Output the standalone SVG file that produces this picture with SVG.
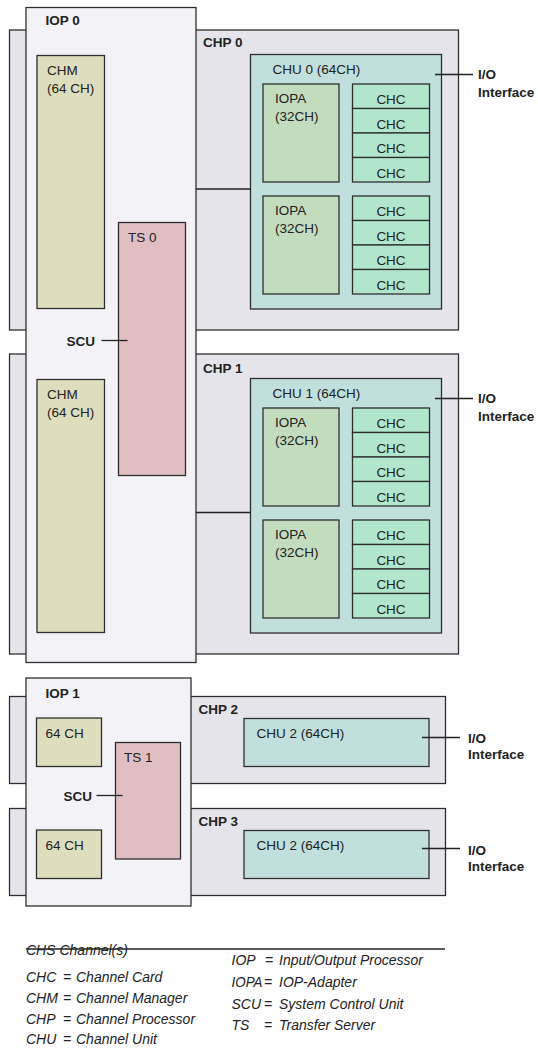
<svg xmlns="http://www.w3.org/2000/svg" width="538" height="1048" viewBox="0 0 538 1048">
<style>
rect{stroke:#2e2e2e;stroke-width:1.3}
.chp{fill:#e5e4ea}
.iop{fill:#f2f2f7}
.chm{fill:#deddbd}
.ts{fill:#e0bec2}
.chu{fill:#c0dfdd}
.iopa{fill:#c1ddbd}
.chc{fill:#b2e6cc}
text{font-family:"Liberation Sans",Arial,sans-serif;font-size:13.5px;fill:#222}
.b{font-weight:bold}
.c{text-anchor:middle}
.lg{font-size:14px;font-style:italic}
line{stroke:#222;stroke-width:1.3}
</style>
<defs>
<g id="chuInner">
<rect class="iopa" x="263" y="84" width="76" height="98"/>
<text x="275" y="103">IOPA</text><text x="275" y="120.5">(32CH)</text>
<rect class="chc" x="352.5" y="84" width="77" height="24.5"/><text class="c" x="391" y="104">CHC</text>
<rect class="chc" x="352.5" y="108.5" width="77" height="24.5"/><text class="c" x="391" y="128.5">CHC</text>
<rect class="chc" x="352.5" y="133" width="77" height="24.5"/><text class="c" x="391" y="153">CHC</text>
<rect class="chc" x="352.5" y="157.5" width="77" height="24.5"/><text class="c" x="391" y="177.5">CHC</text>
<rect class="iopa" x="263" y="196" width="76" height="98"/>
<text x="275" y="215">IOPA</text><text x="275" y="232.5">(32CH)</text>
<rect class="chc" x="352.5" y="196" width="77" height="24.5"/><text class="c" x="391" y="216">CHC</text>
<rect class="chc" x="352.5" y="220.5" width="77" height="24.5"/><text class="c" x="391" y="240.5">CHC</text>
<rect class="chc" x="352.5" y="245" width="77" height="24.5"/><text class="c" x="391" y="265">CHC</text>
<rect class="chc" x="352.5" y="269.5" width="77" height="24.5"/><text class="c" x="391" y="289.5">CHC</text>
</g>
</defs>

<g id="chp0">
<rect class="chp" x="9.5" y="30" width="449" height="300"/>
<text class="b" x="203" y="47">CHP 0</text>
</g>
<g id="chp1">
<rect class="chp" x="9.5" y="354" width="449" height="300"/>
<text class="b" x="203" y="373">CHP 1</text>
</g>
<g id="chp2">
<rect class="chp" x="9.5" y="696.5" width="436" height="87"/>
<text class="b" x="198.5" y="714">CHP 2</text>
</g>
<g id="chp3">
<rect class="chp" x="9.5" y="808.5" width="436" height="87"/>
<text class="b" x="198.5" y="826">CHP 3</text>
</g>

<g id="iop0">
<rect class="iop" x="26" y="7.5" width="170" height="655"/>
<text class="b" x="45.5" y="25">IOP 0</text>
</g>
<g id="chm0">
<rect class="chm" x="37" y="55.5" width="67.5" height="253"/>
<text x="47" y="75">CHM</text><text x="47" y="93">(64 CH)</text>
</g>
<g id="chm1">
<rect class="chm" x="37" y="379.5" width="67.5" height="253"/>
<text x="47" y="399">CHM</text><text x="47" y="417">(64 CH)</text>
</g>
<g id="ts0">
<rect class="ts" x="118.5" y="222.5" width="67" height="253"/>
<text x="128" y="242">TS 0</text>
</g>
<g id="scu0"><text class="b" x="66.5" y="346">SCU</text></g>

<g id="chu0">
<rect class="chu" x="250.5" y="54.5" width="191" height="254.5"/>
<text x="272.5" y="74">CHU 0 (64CH)</text>
<use href="#chuInner"/>
</g>
<g id="chu1">
<rect class="chu" x="250.5" y="378.5" width="191" height="254.5"/>
<text x="272.5" y="398">CHU 1 (64CH)</text>
<use href="#chuInner" transform="translate(0,324)"/>
</g>

<g id="iop1">
<rect class="iop" x="26" y="678" width="165" height="228"/>
<text class="b" x="45.5" y="697.5">IOP 1</text>
</g>
<g id="ch64a">
<rect class="chm" x="36.5" y="718" width="65" height="48.5"/>
<text x="45.5" y="737.5">64 CH</text>
</g>
<g id="ch64b">
<rect class="chm" x="36.5" y="830" width="65" height="48.5"/>
<text x="45.5" y="849.5">64 CH</text>
</g>
<g id="ts1">
<rect class="ts" x="115.5" y="742.5" width="65" height="116.5"/>
<text x="124" y="762">TS 1</text>
</g>
<g id="scu1"><text class="b" x="63.5" y="800.5">SCU</text></g>
<g id="chu2">
<rect class="chu" x="244" y="718.5" width="185" height="48"/>
<text x="256.5" y="737.5">CHU 2 (64CH)</text>
</g>
<g id="chu3">
<rect class="chu" x="244" y="830.5" width="185" height="48"/>
<text x="256.5" y="849.5">CHU 2 (64CH)</text>
</g>

<g id="io0"><text class="b" x="478" y="79">I/O</text><text class="b" x="478" y="97">Interface</text></g>
<g id="io1"><text class="b" x="478" y="403">I/O</text><text class="b" x="478" y="421">Interface</text></g>
<g id="io2"><text class="b" x="468" y="743">I/O</text><text class="b" x="468" y="759">Interface</text></g>
<g id="io3"><text class="b" x="468" y="855">I/O</text><text class="b" x="468" y="871">Interface</text></g>

<g id="connectors">
<line x1="196" y1="189" x2="250.5" y2="189"/>
<line x1="196" y1="512.5" x2="250.5" y2="512.5"/>
<line x1="101.5" y1="340.5" x2="127.5" y2="340.5"/>
<line x1="96.5" y1="795.5" x2="122.5" y2="795.5"/>
<line x1="435" y1="74.5" x2="473" y2="74.5"/>
<line x1="435" y1="398.5" x2="473" y2="398.5"/>
<line x1="422" y1="737.5" x2="460" y2="737.5"/>
<line x1="422" y1="848.5" x2="460" y2="848.5"/>
</g>

<g id="legend">
<line x1="26" y1="949" x2="445" y2="949"/>
<text class="lg" x="26" y="955">CHS Channel(s)</text>
<text class="lg" x="26" y="982">CHC</text><text class="lg" x="63" y="982">=</text><text class="lg" x="76" y="982">Channel Card</text>
<text class="lg" x="26" y="1003">CHM</text><text class="lg" x="63" y="1003">=</text><text class="lg" x="76" y="1003">Channel Manager</text>
<text class="lg" x="26" y="1023.5">CHP</text><text class="lg" x="63" y="1023.5">=</text><text class="lg" x="76" y="1023.5">Channel Processor</text>
<text class="lg" x="26" y="1044">CHU</text><text class="lg" x="63" y="1044">=</text><text class="lg" x="76" y="1044">Channel Unit</text>
<text class="lg" x="231.5" y="965">IOP</text><text class="lg" x="265" y="965">=</text><text class="lg" x="279" y="965">Input/Output Processor</text>
<text class="lg" x="231.5" y="987" textLength="31" lengthAdjust="spacingAndGlyphs">IOPA</text><text class="lg" x="264" y="987">=</text><text class="lg" x="279" y="987">IOP-Adapter</text>
<text class="lg" x="231.5" y="1008.5">SCU</text><text class="lg" x="264" y="1008.5">=</text><text class="lg" x="279" y="1008.5">System Control Unit</text>
<text class="lg" x="231.5" y="1029.5">TS</text><text class="lg" x="264" y="1029.5">=</text><text class="lg" x="279" y="1029.5">Transfer Server</text>
</g>
</svg>
